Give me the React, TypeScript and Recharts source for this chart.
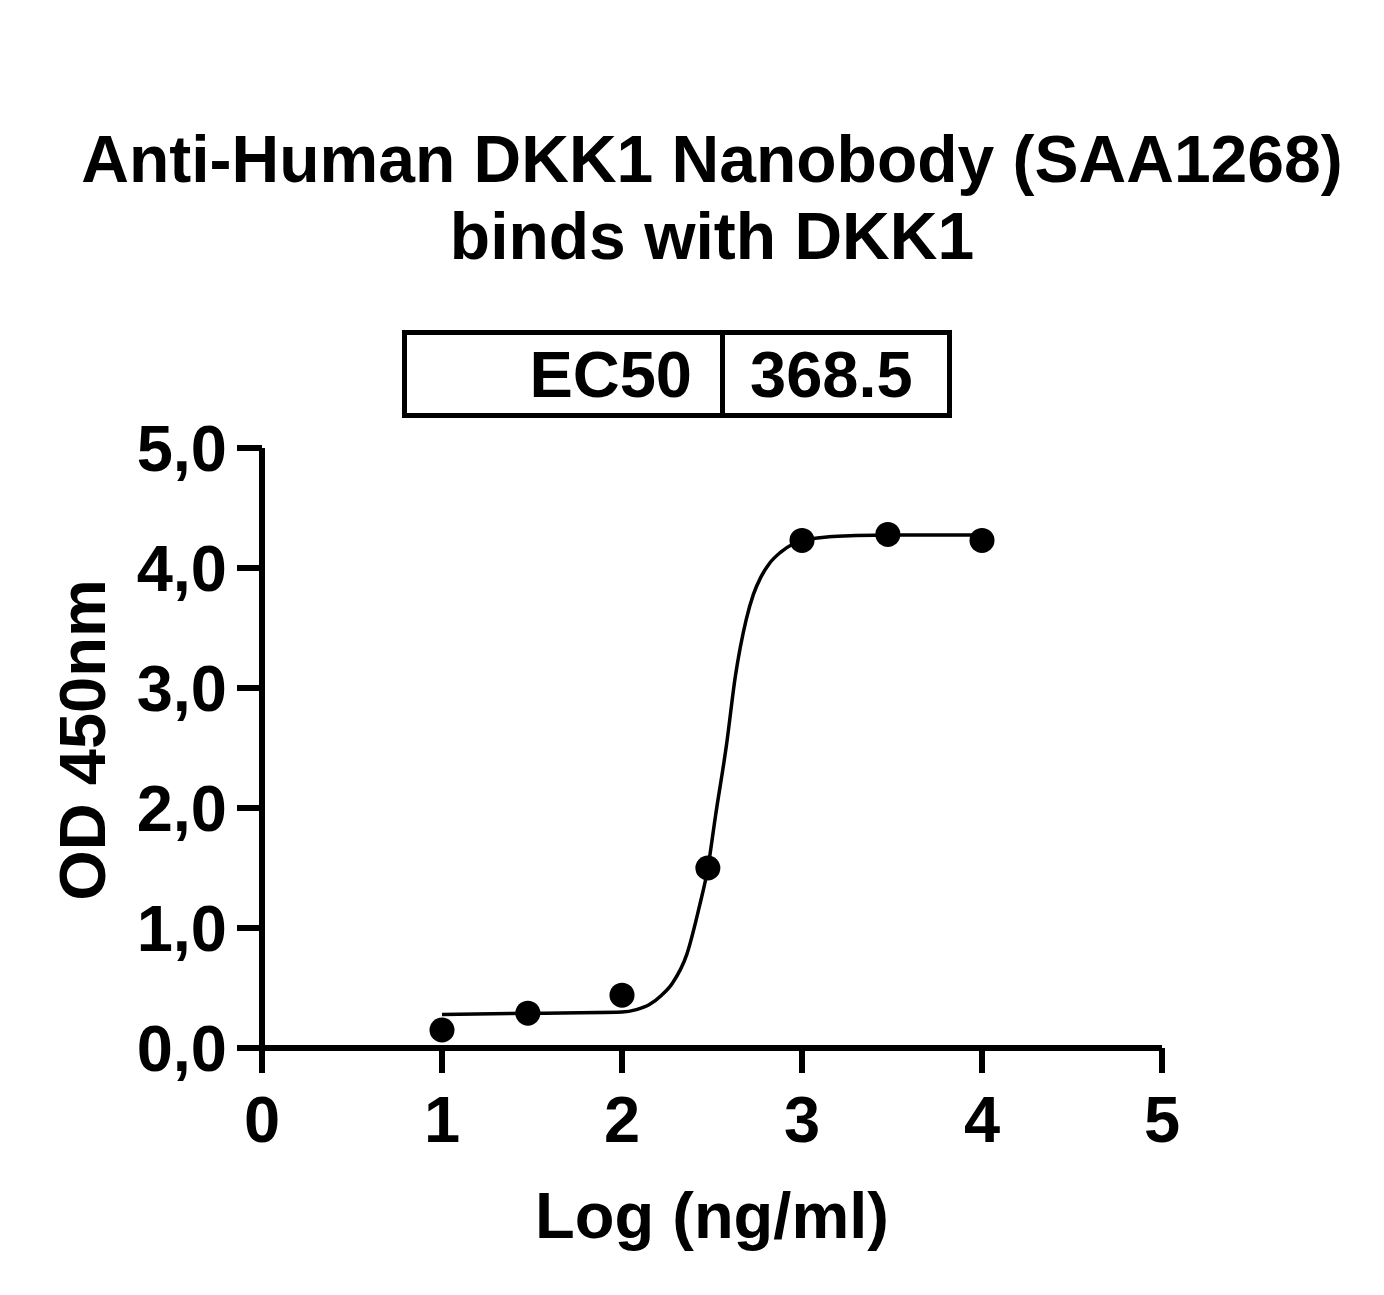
import { ComposedChart, Line, Scatter, XAxis, YAxis, Label } from 'recharts'

// measured points (log concentration vs OD 450nm)
const logConc = [1, 1.477, 2, 2.477, 3, 3.477, 4]
const od450 = [0.15, 0.29, 0.44, 1.5, 4.23, 4.28, 4.23]

// fitted curve
const curveX = [1, 1.5, 2, 2.08, 2.15, 2.22, 2.28, 2.36, 2.43, 2.477, 2.52, 2.58, 2.63, 2.69, 2.73, 2.77, 2.82, 2.88, 2.95, 3, 3.15, 3.3, 3.5, 4]
const curveY = [0.28, 0.29, 0.3, 0.32, 0.36, 0.44, 0.54, 0.78, 1.18, 1.5, 1.94, 2.52, 3.1, 3.57, 3.78, 3.92, 4.04, 4.13, 4.2, 4.23, 4.26, 4.27, 4.275, 4.275]

const xTicks = [0, 1, 2, 3, 4, 5]
const yTicks = [0, 1, 2, 3, 4, 5]
const yTickLabels = ['0,0', '1,0', '2,0', '3,0', '4,0', '5,0']

const titleLines = ['Anti-Human DKK1 Nanobody (SAA1268)', 'binds with DKK1']
const ec50Label = 'EC50'
const ec50Value = '368.5'

const points = logConc.map((x, i) => ({ x, y: od450[i] }))
const curve = curveX.map((x, i) => ({ x, y: curveY[i] }))

const font = '"Liberation Sans", Arial, Helvetica, sans-serif'
const textStyle = { fontFamily: font, fontWeight: 700, fontSize: 65, fill: '#000' }
const titleStyle = { ...textStyle, fontSize: 66 }
const axisStroke = { stroke: '#000', strokeWidth: 6 }

function Dot(props: { cx?: number; cy?: number }) {
  if (props.cx == null || props.cy == null) return null
  return <circle cx={props.cx} cy={props.cy} r={12.5} fill="#000" />
}

export default function App() {
  return (
    <div style={{ position: 'absolute', left: 0, top: 0, width: 1384, height: 1295, background: '#fff' }}>
      <ComposedChart
        width={1384}
        height={1295}
        margin={{ top: 448, right: 222, bottom: 127, left: 62 }}
      >
        <XAxis
          dataKey="x"
          type="number"
          domain={[0, 5]}
          ticks={xTicks}
          interval={0}
          allowDataOverflow
          height={120}
          stroke="#000"
          strokeWidth={6}
          axisLine={axisStroke}
          tickLine={axisStroke}
          tickSize={25}
          tickMargin={23}
          tick={textStyle}
        >
          <Label
            content={() => (
              <text x={712} y={1238} textAnchor="middle" style={textStyle}>
                Log (ng/ml)
              </text>
            )}
          />
        </XAxis>
        <YAxis
          type="number"
          domain={[0, 5]}
          ticks={yTicks}
          interval={0}
          allowDataOverflow
          width={200}
          stroke="#000"
          strokeWidth={6}
          axisLine={axisStroke}
          tickLine={axisStroke}
          tickSize={25}
          tickMargin={10}
          tick={textStyle}
          tickFormatter={(v: number) => yTickLabels[yTicks.indexOf(v)]}
        >
          <Label
            content={() => (
              <text
                x={105}
                y={740}
                textAnchor="middle"
                transform="rotate(-90 105 740)"
                style={textStyle}
              >
                OD 450nm
              </text>
            )}
          />
        </YAxis>
        <Line
          data={curve}
          dataKey="y"
          type="monotone"
          stroke="#000"
          strokeWidth={3.5}
          dot={false}
          activeDot={false}
          isAnimationActive={false}
        />
        <Scatter data={points} dataKey="y" shape={<Dot />} isAnimationActive={false} />
      </ComposedChart>

      <svg
        width={1384}
        height={1295}
        style={{ position: 'absolute', left: 0, top: 0, pointerEvents: 'none' }}
      >
        <text x={712} y={182} textAnchor="middle" style={titleStyle}>
          {titleLines[0]}
        </text>
        <text x={712} y={259} textAnchor="middle" style={titleStyle}>
          {titleLines[1]}
        </text>
        <rect x={404.5} y={332.5} width={545} height={83} fill="none" stroke="#000" strokeWidth={5} />
        <line x1={722.5} y1={332.5} x2={722.5} y2={415.5} stroke="#000" strokeWidth={5} />
        <text x={692} y={397} textAnchor="end" style={textStyle}>
          {ec50Label}
        </text>
        <text x={750} y={397} textAnchor="start" style={textStyle}>
          {ec50Value}
        </text>
      </svg>
    </div>
  )
}
